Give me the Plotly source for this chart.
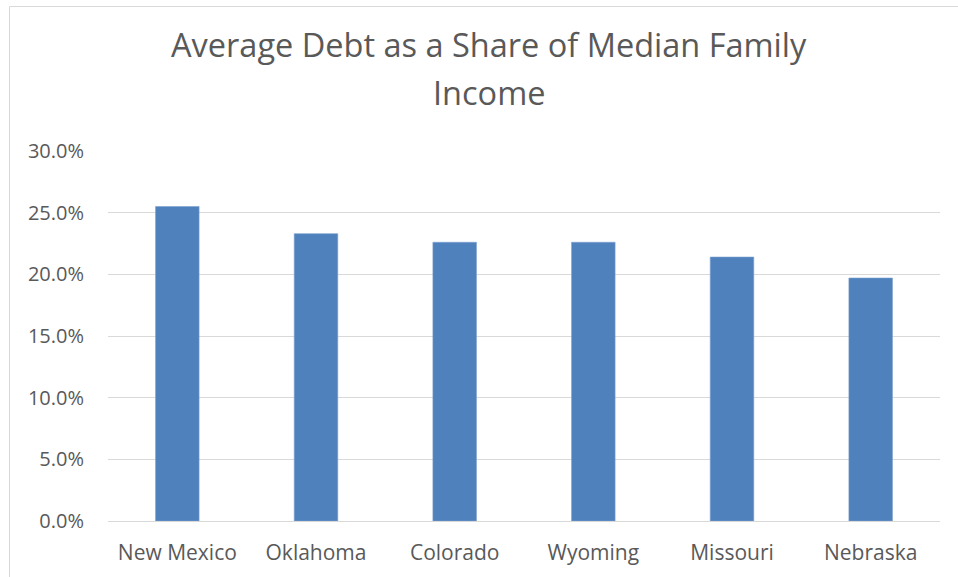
import plotly.graph_objects as go

states = ["New Mexico", "Oklahoma", "Colorado", "Wyoming", "Missouri", "Nebraska"]
debt_share = [25.5, 23.3, 22.6, 22.6, 21.4, 19.7]
y_ticks = [0, 5, 10, 15, 20, 25, 30]
y_tick_text = [f"{v:.1f}%" for v in y_ticks]
title_lines = ["Average Debt as a Share of Median Family", "Income"]

W, H = 958, 577
L, R, T, B = 108, 18, 151, 56
pw, ph = W - L - R, H - T - B


def px_x(p):
    return (p - L) / pw


def px_y(p):
    return (H - B - p) / ph


fig = go.Figure(go.Bar(
    x=states, y=debt_share,
    marker=dict(color="#4f81bd", line=dict(color="#7a9fd0", width=0.6)),
))

fig.update_layout(
    width=W, height=H,
    margin=dict(l=L, r=R, t=T, b=B),
    paper_bgcolor="white", plot_bgcolor="white",
    bargap=0.686,
    showlegend=False,
    font=dict(family="Open Sans", color="#595959"),
    xaxis=dict(
        showgrid=False, showline=False, ticks="outside", ticklen=13,
        tickcolor="rgba(0,0,0,0)", tickfont=dict(size=21, color="#595959"),
    ),
    yaxis=dict(
        range=[0, 30], tickvals=y_ticks, ticktext=y_tick_text,
        showgrid=True, gridcolor="#d9d9d9", gridwidth=1.3,
        zeroline=True, zerolinecolor="#d9d9d9", zerolinewidth=1.3,
        showline=False, ticks="outside", ticklen=19, tickcolor="rgba(0,0,0,0)",
        tickfont=dict(size=20, color="#595959"),
    ),
    annotations=[
        dict(text=title_lines[0], xref="paper", yref="paper", x=px_x(488.5), y=px_y(69),
             xanchor="center", yanchor="bottom", showarrow=False,
             font=dict(family="Open Sans", size=32.5, color="#595959")),
        dict(text=title_lines[1], xref="paper", yref="paper", x=px_x(488.5), y=px_y(117),
             xanchor="center", yanchor="bottom", showarrow=False,
             font=dict(family="Open Sans", size=32.5, color="#595959")),
    ],
    shapes=[dict(
        type="rect", xref="paper", yref="paper",
        x0=px_x(9.5), x1=px_x(975),
        y0=px_y(590), y1=px_y(6.5),
        line=dict(color="#d9d9d9", width=1), fillcolor="rgba(0,0,0,0)", layer="below",
    )],
)

fig.write_html(
    "out.html",
    config={"displayModeBar": False},
    post_script="document.body.style.margin='0';document.body.style.padding='0';",
)
